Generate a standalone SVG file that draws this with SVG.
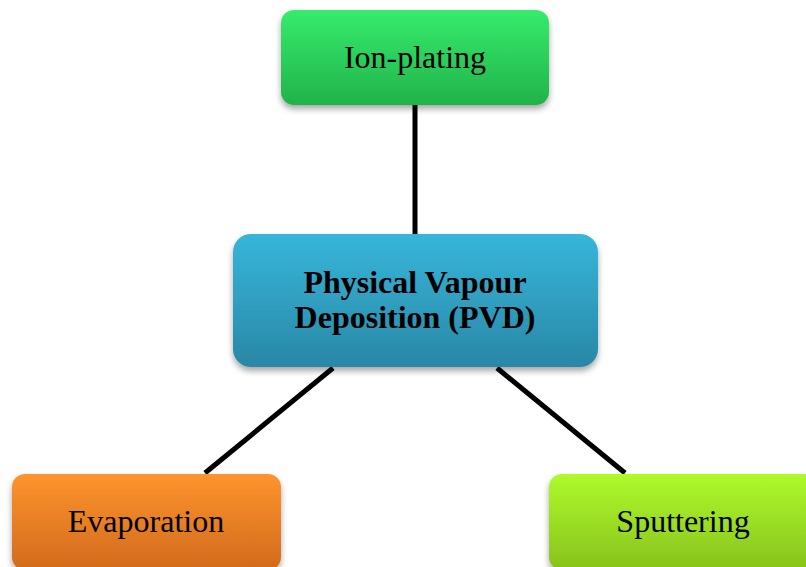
<svg xmlns="http://www.w3.org/2000/svg" width="806" height="567" viewBox="0 0 806 567">
<style>
.lbl{font-family:"Liberation Serif","Times New Roman",serif;font-size:32px;fill:#000;text-anchor:middle}
.bold{font-weight:bold}
.conn{stroke:#000;stroke-width:5;fill:none}
</style>
<defs>
<filter id="sh" x="-10%" y="-10%" width="120%" height="130%">
<feDropShadow dx="0" dy="4" stdDeviation="3" flood-color="#000" flood-opacity="0.35"/>
</filter>
<linearGradient id="gGreen" x1="0" y1="0" x2="0" y2="1"><stop offset="0" stop-color="#35ec6c"/><stop offset="1" stop-color="#22b24a"/></linearGradient>
<linearGradient id="gBlue" x1="0" y1="0" x2="0" y2="1"><stop offset="0" stop-color="#37b6da"/><stop offset="1" stop-color="#2987a6"/></linearGradient>
<linearGradient id="gOrange" x1="0" y1="0" x2="0" y2="1"><stop offset="0" stop-color="#fd942d"/><stop offset="1" stop-color="#d26a1d"/></linearGradient>
<linearGradient id="gLime" x1="0" y1="0" x2="0" y2="1"><stop offset="0" stop-color="#aefa2c"/><stop offset="1" stop-color="#88c21d"/></linearGradient>
</defs>
<g id="connectors">
<line class="conn" x1="415" y1="104" x2="415" y2="236"/>
<line class="conn" x1="333" y1="368" x2="205" y2="473"/>
<line class="conn" x1="497" y1="368" x2="625" y2="473"/>
</g>
<g id="ion-plating">
<rect x="281" y="10" width="268" height="95" rx="13" fill="url(#gGreen)" filter="url(#sh)"/>
<text class="lbl" x="415" y="68">Ion-plating</text>
</g>
<g id="pvd">
<rect x="233" y="234" width="365" height="133" rx="18" fill="url(#gBlue)" filter="url(#sh)"/>
<text class="lbl bold" x="415" y="293">Physical Vapour</text>
<text class="lbl bold" x="415" y="328">Deposition (PVD)</text>
</g>
<g id="evaporation">
<rect x="12" y="474" width="269" height="96" rx="13" fill="url(#gOrange)" filter="url(#sh)"/>
<text class="lbl" x="146" y="532">Evaporation</text>
</g>
<g id="sputtering">
<rect x="549" y="474" width="268" height="96" rx="13" fill="url(#gLime)" filter="url(#sh)"/>
<text class="lbl" x="683" y="532">Sputtering</text>
</g>
</svg>
